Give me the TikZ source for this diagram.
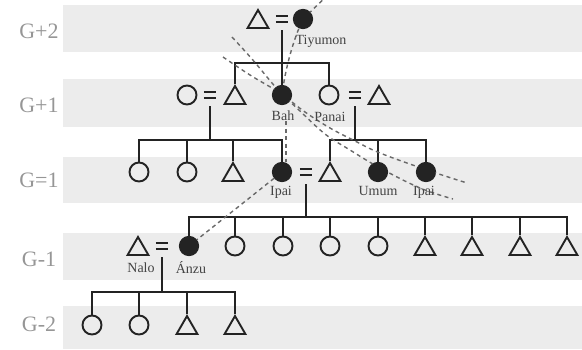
\documentclass[tikz,border=0pt]{standalone}
\usepackage{fontspec}
\setmainfont{Liberation Serif}
\usetikzlibrary{shapes.geometric,calc}
\definecolor{band}{RGB}{236,236,236}
\definecolor{genc}{RGB}{150,150,150}
\definecolor{ink}{RGB}{35,35,35}
\definecolor{dashc}{RGB}{105,105,105}
\begin{document}
\begin{tikzpicture}[x=1pt,y=-1pt,
  female/.style={circle,draw=ink,line width=1.9pt,minimum size=19pt,inner sep=0pt},
  dead/.style={circle,draw=ink,fill=ink,line width=1.2pt,minimum size=19pt,inner sep=0pt},
  male/.style={regular polygon,regular polygon sides=3,draw=ink,line width=1.9pt,minimum size=24pt,inner sep=0pt},
  eqsign/.style={rectangle,minimum width=12pt,minimum height=5.5pt,inner sep=0pt},
  eqbar/.style={draw=ink,line width=1.8pt},
  link/.style={draw=ink,line width=1.4pt},
  lineage/.style={draw=dashc,line width=1.4pt,dash pattern=on 4pt off 3.5pt},
  genlbl/.style={font=\fontsize{22}{22}\selectfont,text=genc},
  lbl/.style={font=\fontsize{14}{14}\selectfont,text=ink!85,inner sep=0pt}]
\useasboundingbox (0,0) rectangle (582,349);
% bands
\fill[band] (63,5) rectangle (582,52);
\fill[band] (63,79) rectangle (582,127);
\fill[band] (63,157) rectangle (582,203);
\fill[band] (63,233) rectangle (582,280);
\fill[band] (63,306) rectangle (582,349);
% generation labels
\node[genlbl] (g2) at (39,31) {G+2};
\node[genlbl] (g1) at (39,105) {G+1};
\node[genlbl] (g0) at (39,180) {G=1};
\node[genlbl] (gm1) at (39,259) {G-1};
\node[genlbl] (gm2) at (39,324) {G-2};
% G+2
\node[male] (t1) at (258,22) {};
\node[eqsign] (e1) at (282,19) {};
\node[dead] (tiy) at (303,19) {};
% G+1
\node[female] (o1) at (187,95) {};
\node[eqsign] (e2) at (210,95) {};
\node[male] (t2) at (235,98) {};
\node[dead] (bah) at (282,95) {};
\node[female] (pan) at (329,95) {};
\node[eqsign] (e3) at (355,95) {};
\node[male] (t3) at (379,98) {};
% G=1
\node[female] (c1) at (139,172) {};
\node[female] (c2) at (187,172) {};
\node[male] (c3) at (233,175) {};
\node[dead] (ipai) at (282,172) {};
\node[eqsign] (e4) at (306,172) {};
\node[male] (t4) at (330,175) {};
\node[dead] (umum) at (378,172) {};
\node[dead] (ipai2) at (426,172) {};
% G-1
\node[male] (nalo) at (138,249) {};
\node[eqsign] (e5) at (162,246) {};
\node[dead] (anzu) at (189,246) {};
\node[female] (d1) at (235,246) {};
\node[female] (d2) at (283,246) {};
\node[female] (d3) at (330,246) {};
\node[female] (d4) at (378,246) {};
\node[male] (d5) at (425,249) {};
\node[male] (d6) at (472,249) {};
\node[male] (d7) at (520,249) {};
\node[male] (d8) at (567,249) {};
% G-2
\node[female] (f1) at (92,325) {};
\node[female] (f2) at (139,325) {};
\node[male] (f3) at (187,328) {};
\node[male] (f4) at (235,328) {};
% equal signs
\foreach \e in {e1,e2,e3,e4,e5}
  \draw[eqbar] (\e.north west) -- (\e.north east) (\e.south west) -- (\e.south east);
% bars
\coordinate (b1) at (282,63);
\coordinate (b2) at (210,140);
\coordinate (b3) at (355,140);
\coordinate (b4) at (306,217);
\coordinate (b5) at (162,292);
% descent lines
\draw[link] (e1.center) ++(0,11) -- (b1);
\foreach \c in {t2,bah,pan} \draw[link] (\c.north) |- (b1);
\draw[link] (e2.center) ++(0,11) -- (b2);
\foreach \c in {c1,c2,c3,ipai} \draw[link] (\c.north) |- (b2);
\draw[link] (e3.center) ++(0,11) -- (b3);
\foreach \c in {t4,umum,ipai2} \draw[link] (\c.north) |- (b3);
\draw[link] (e4.center) ++(0,12) -- (b4);
\foreach \c in {anzu,d1,d2,d3,d4,d5,d6,d7,d8} \draw[link] (\c.north) |- (b4);
\draw[link] (e5.center) ++(0,11) -- (b5);
\foreach \c in {f1,f2,f3,f4} \draw[link] (\c.north) |- (b5);
% dashed lineage
\coordinate (topend) at (333,-10);
\draw[lineage] (topend) -- (tiy.center) .. controls (293,40) and (285,70) .. (bah.center);
\draw[lineage] ($(bah.center)+(4,26)$) -- ($(ipai.north)+(4,0)$);
\draw[lineage] (ipai) -- (anzu);
\draw[lineage] plot[smooth,tension=0.6] coordinates {(232,37) (252,59) (272,83) (283,95) (300,111) (325,134) (350,150) (380,168) (420,188) (453,199)};
\draw[lineage] plot[smooth,tension=0.6] coordinates {(223,57) (250,75) (272,88) (283,95) (305,112) (330,128) (355,141) (380,153) (427,170) (467,183)};
% redraw filled symbols on top
\foreach \c in {tiy,bah,ipai,umum,ipai2,anzu} \fill[ink] (\c) circle (9.5pt);
% names
\node[lbl] (ltiy) at (321,41) {Tiyumon};
\node[lbl] (lbah) at (283,116) {Bah};
\node[lbl] (lpan) at (330,117) {Panai};
\node[lbl] (lipai) at (281,192) {Ipai};
\node[lbl] (lumum) at (378,191) {Umum};
\node[lbl] (lipai2) at (424,192) {Ipai};
\node[lbl] (lnalo) at (141,268) {Nalo};
\node[lbl] (lanzu) at (191,268) {Ánzu};
\end{tikzpicture}
\end{document}
